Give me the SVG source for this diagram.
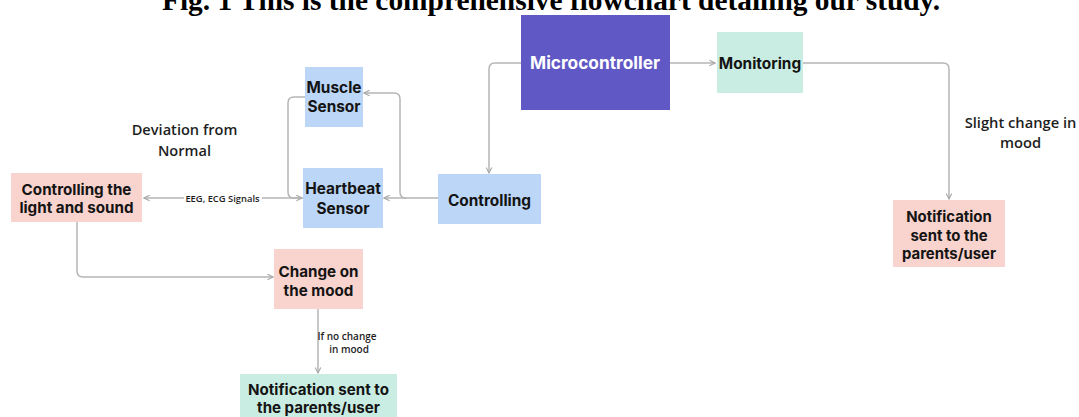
<svg xmlns="http://www.w3.org/2000/svg" width="1079" height="417" viewBox="0 0 1079 417">
<defs>
<marker id="ah" viewBox="0 0 10 10" refX="9" refY="5" markerWidth="7" markerHeight="7" markerUnits="userSpaceOnUse" orient="auto">
<path d="M1,1 L9,5 L1,9" fill="none" stroke="#a9a9a9" stroke-width="1.6"/>
</marker>
<style>
.c{fill:none;stroke:#b5b5b5;stroke-width:1.5}
.t{font-family:Inter,"Liberation Sans",sans-serif;font-weight:700;fill:#141414;text-anchor:middle}
.l{font-family:"Open Sans","Liberation Sans",sans-serif;font-weight:600;fill:#1e1e1e;text-anchor:middle}
.blue{fill:#bcd6f7}
.pink{fill:#f9d3cd}
.teal{fill:#c9ede2}
</style>
</defs>
<rect width="1079" height="417" fill="#ffffff"/>
<text x="551" y="9.5" font-family="'Liberation Serif',serif" font-weight="700" font-size="29.4" text-anchor="middle" fill="#000">Fig. 1 This is the comprehensive flowchart detailing our study.</text>
<g id="connectors">
<path class="c" d="M670,63 H715" marker-end="url(#ah)"/>
<path class="c" d="M521,63 H495 Q489,63 489,69 V173" marker-end="url(#ah)"/>
<path class="c" d="M803,63 H943 Q949,63 949,69 V199" marker-end="url(#ah)"/>
<path class="c" d="M438,198 H384" marker-end="url(#ah)"/>
<path class="c" d="M406,198 Q400,198 400,192 V99 Q400,93 394,93 H364" marker-end="url(#ah)"/>
<path class="c" d="M305,97 H294 Q288,97 288,103 V192 Q288,198 294,198 H302" marker-end="url(#ah)"/>
<path class="c" d="M303,198 H262 M184,198 H144" marker-end="url(#ah)"/>
<path class="c" d="M77,222 V271 Q77,277 83,277 H273" marker-end="url(#ah)"/>
<path class="c" d="M318,309 V373" marker-end="url(#ah)"/>
</g>
<g id="labels">
<text class="l" x="222.5" y="201.5" font-size="9.4" font-weight="700">EEG, ECG Signals</text>
<text class="l" x="184.5" y="134.5" font-size="14.6">Deviation from</text>
<text class="l" x="184.5" y="156" font-size="14.6">Normal</text>
<text class="l" x="1020.5" y="128" font-size="14.7">Slight change in</text>
<text class="l" x="1020.5" y="147.5" font-size="14.7">mood</text>
<text class="l" x="347" y="340" font-size="10">If no change</text>
<text class="l" x="349" y="353" font-size="10">in mood</text>
</g>
<g id="microcontroller">
<rect x="521" y="15" width="149" height="95" fill="#5f58c5"/>
<text class="t" x="595" y="69" font-size="17.3" style="fill:#ffffff">Microcontroller</text>
</g>
<g id="monitoring">
<rect class="teal" x="717" y="32" width="86" height="61"/>
<text class="t" x="760" y="68.5" font-size="15.4">Monitoring</text>
</g>
<g id="controlling">
<rect class="blue" x="438" y="174" width="103" height="50"/>
<text class="t" x="489.5" y="205.5" font-size="15.4">Controlling</text>
</g>
<g id="muscle-sensor">
<rect class="blue" x="305" y="67" width="58" height="60"/>
<text class="t" x="334" y="92.5" font-size="15.4">Muscle</text>
<text class="t" x="334" y="112" font-size="15.4">Sensor</text>
</g>
<g id="heartbeat-sensor">
<rect class="blue" x="303" y="168" width="80" height="60"/>
<text class="t" x="343" y="193.5" font-size="15.4">Heartbeat</text>
<text class="t" x="343" y="213.5" font-size="15.4">Sensor</text>
</g>
<g id="controlling-light-sound">
<rect class="pink" x="11" y="173" width="131" height="49"/>
<text class="t" x="76.5" y="195" font-size="15.2">Controlling the</text>
<text class="t" x="76.5" y="212.5" font-size="15.2">light and sound</text>
</g>
<g id="change-mood">
<rect class="pink" x="274" y="249" width="89" height="60"/>
<text class="t" x="318.5" y="276.5" font-size="15.2">Change on</text>
<text class="t" x="318.5" y="295.5" font-size="15.2">the mood</text>
</g>
<g id="notification-right">
<rect class="pink" x="893" y="200" width="112" height="67"/>
<text class="t" x="949" y="222" font-size="14.9">Notification</text>
<text class="t" x="949" y="240.5" font-size="14.9">sent to the</text>
<text class="t" x="949" y="258.5" font-size="14.9">parents/user</text>
</g>
<g id="notification-bottom">
<rect class="teal" x="240" y="374" width="157" height="43"/>
<text class="t" x="318.5" y="394.5" font-size="15.1">Notification sent to</text>
<text class="t" x="318.5" y="412.5" font-size="15.1">the parents/user</text>
</g>
</svg>
